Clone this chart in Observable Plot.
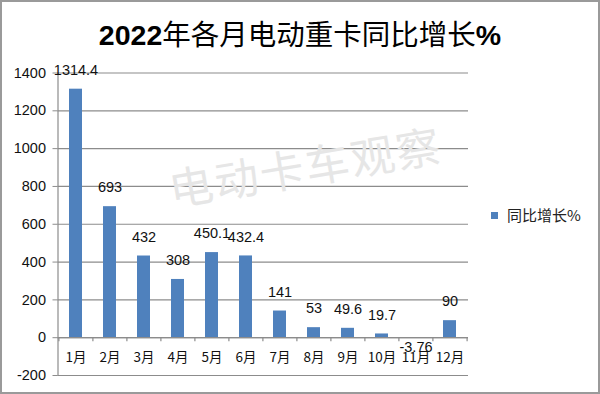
<!DOCTYPE html>
<html>
<head>
<meta charset="utf-8">
<script src="https://cdn.jsdelivr.net/npm/d3@7"></script>
<script src="https://cdn.jsdelivr.net/npm/@observablehq/plot@0.6"></script>
<style>
  html, body { margin: 0; padding: 0; background: #fff; }
  #wrap { position: relative; width: 600px; height: 394px; overflow: hidden; font-family: "Liberation Sans", "Noto Sans CJK SC", sans-serif; }
  #border { position: absolute; left: 0; top: 0; width: 600px; height: 394px; box-sizing: border-box; border: 2px solid #9a9a9a; pointer-events: none; }
  #title { position: absolute; left: 0; top: 14px; width: 600px; text-align: center; font-size: 28.5px; color: #000; line-height: 38px; font-family: "Noto Sans CJK SC", sans-serif; }
  #title b { font-family: "Liberation Sans", sans-serif; font-weight: bold; }
  #legend { position: absolute; left: 491px; top: 205px; font-size: 15px; font-family: "Noto Sans CJK SC", sans-serif; color: #222; display: flex; align-items: center; line-height: 20px; }
  #legend span.sw { display: inline-block; width: 7px; height: 7px; background: #4F81BD; margin-right: 9px; }
  #wm { position: absolute; left: 305px; top: 165px; transform: translate(-50%, -50%) rotate(-9.5deg); font-size: 44px; color: #e6e6e6; font-family: "Noto Sans CJK SC", sans-serif; white-space: nowrap; letter-spacing: 2px; }
</style>
</head>
<body>
<div id="wrap">
  <div id="title"><b>2022</b>年各月电动重卡同比增长<b>%</b></div>
  <div id="wm">电动卡车观察</div>
  <div id="chart"></div>
  <div id="legend"><span class="sw"></span>同比增长%</div>
  <div id="border"></div>
</div>
<script>
const months = ["1月","2月","3月","4月","5月","6月","7月","8月","9月","10月","11月","12月"];
const values = [1314.4, 693, 432, 308, 450.1, 432.4, 141, 53, 49.6, 19.7, -3.76, 90];
const yTicks = [-200, 0, 200, 400, 600, 800, 1000, 1200, 1400];
const labels = ["1314.4","693","432","308","450.1","432.4","141","53","49.6","19.7","-3.76","90"];

const data = months.map((m, i) => ({month: m, value: values[i], label: labels[i]}));

const marginLeft = 57.5, marginRight = 132;
const step = (600 - marginLeft - marginRight) / months.length;
const gridColor = "#8c8c8c";
const font = "Liberation Sans, Noto Sans CJK SC, sans-serif";

const chart = Plot.plot({
  width: 600,
  height: 394,
  marginLeft, marginRight,
  marginTop: 72.5,
  marginBottom: 19,
  style: {fontFamily: font, background: "transparent"},
  x: {domain: months, paddingInner: 0.62, paddingOuter: 0.31, axis: null},
  y: {domain: [-200, 1400], axis: null},
  marks: [
    Plot.gridY(yTicks, {stroke: gridColor, strokeOpacity: 1, strokeWidth: 1.2}),
    Plot.axisY(yTicks, {tickSize: 5, tickPadding: 7, stroke: gridColor, fontSize: 14.5, fill: "#111", label: null, tickFormat: d => String(d)}),
    Plot.frame({anchor: "left", stroke: gridColor, strokeWidth: 1.2}),
    Plot.barY(data, {x: "month", y: "value", fill: "#4F81BD"}),
    Plot.ruleY([0], {stroke: gridColor, strokeWidth: 1.2}),
    Plot.ruleX(months, {x: d => d, dx: -step / 2, y1: 0, y2: -22, stroke: gridColor, strokeWidth: 1.2}),
    Plot.ruleX(months.slice(-1), {x: d => d, dx: step / 2, y1: 0, y2: -22, stroke: gridColor, strokeWidth: 1.2}),
    Plot.text(data.filter(d => d.value >= 0), {x: "month", y: "value", text: "label", dy: -19, fontSize: 14.5, fill: "#111"}),
    Plot.text(data.filter(d => d.value < 0), {x: "month", y: "value", text: "label", dy: 9, fontSize: 14.5, fill: "#111"}),
    Plot.text(months, {x: d => d, y: 0, dy: 20, text: d => d, fontSize: 13.5, fill: "#111", fontFamily: "Noto Sans CJK SC, sans-serif"})
  ]
});
document.getElementById("chart").appendChild(chart);
</script>
</body>
</html>
